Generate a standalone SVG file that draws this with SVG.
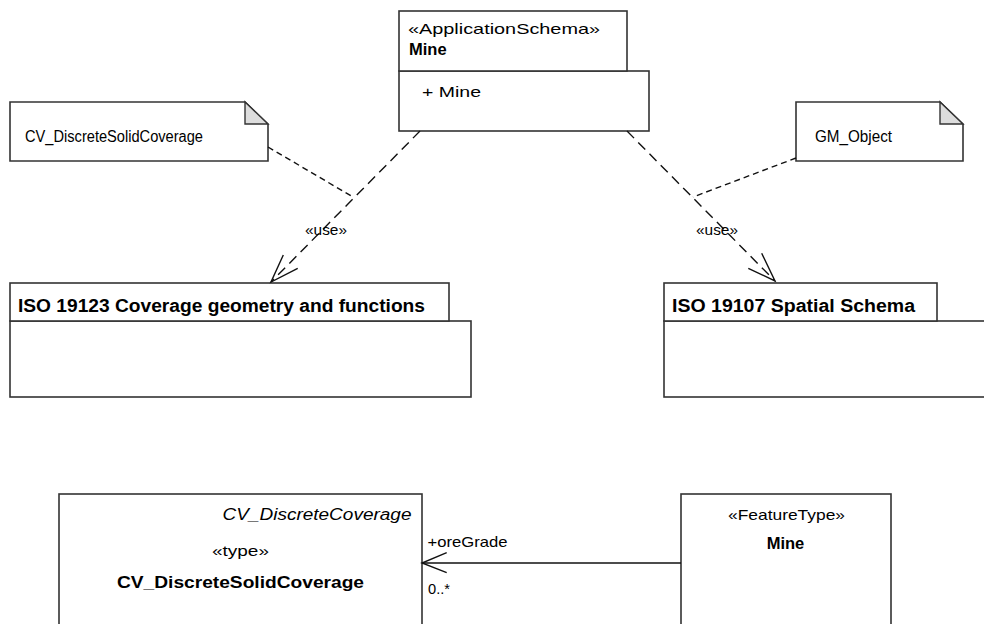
<svg xmlns="http://www.w3.org/2000/svg" width="984" height="624" viewBox="0 0 984 624">
<style>
.box{fill:#fff;stroke:#333;stroke-width:1.6}
.fold{fill:#ddd;stroke:#333;stroke-width:1.4}
.t{font-family:"Liberation Sans",Arial,sans-serif;fill:#000}
.dep{fill:none;stroke:#111;stroke-width:1.4;stroke-dasharray:10,6}
.nl{fill:none;stroke:#111;stroke-width:1.4;stroke-dasharray:6,4}
.sol{fill:none;stroke:#111;stroke-width:1.4}
</style>
<rect width="984" height="624" fill="#fff"/>
<g id="pkg-mine">
<rect class="box" x="399" y="71" width="250" height="60"/>
<rect class="box" x="399" y="11" width="228" height="60"/>
<text class="t" x="408" y="34" font-size="14.5" textLength="192" lengthAdjust="spacingAndGlyphs">«ApplicationSchema»</text>
<text class="t" x="409" y="55" font-size="16.5" font-weight="bold">Mine</text>
<text class="t" x="422" y="97" font-size="15" textLength="59" lengthAdjust="spacingAndGlyphs">+ Mine</text>
</g>
<g id="note-cv">
<path class="box" d="M10,102 H245 L268,124 V161 H10 Z"/>
<path class="fold" d="M245,102 V124 H268 Z"/>
<text class="t" x="25" y="142" font-size="16" textLength="178" lengthAdjust="spacingAndGlyphs">CV_DiscreteSolidCoverage</text>
</g>
<g id="note-gm">
<path class="box" d="M796,102 H940 L963,124 V161 H796 Z"/>
<path class="fold" d="M940,102 V124 H963 Z"/>
<text class="t" x="815" y="142" font-size="16" textLength="77" lengthAdjust="spacingAndGlyphs">GM_Object</text>
</g>
<g id="pkg-19123">
<rect class="box" x="10" y="321" width="461" height="76"/>
<rect class="box" x="10" y="283" width="439" height="38"/>
<text class="t" x="18" y="312" font-size="17.5" font-weight="bold" textLength="407" lengthAdjust="spacingAndGlyphs">ISO 19123 Coverage geometry and functions</text>
</g>
<g id="pkg-19107">
<rect class="box" x="664" y="321" width="340" height="76"/>
<rect class="box" x="664" y="283" width="273" height="38"/>
<text class="t" x="672" y="312" font-size="17.5" font-weight="bold" textLength="243" lengthAdjust="spacingAndGlyphs">ISO 19107 Spatial Schema</text>
</g>
<g id="class-cv">
<rect class="box" x="59" y="494" width="363" height="150"/>
<text class="t" x="411.5" y="519.5" font-size="16" font-style="italic" text-anchor="end" textLength="189" lengthAdjust="spacingAndGlyphs">CV_DiscreteCoverage</text>
<text class="t" x="240.5" y="556" font-size="14.5" text-anchor="middle" textLength="57" lengthAdjust="spacingAndGlyphs">«type»</text>
<text class="t" x="240.5" y="588" font-size="16" font-weight="bold" text-anchor="middle" textLength="247" lengthAdjust="spacingAndGlyphs">CV_DiscreteSolidCoverage</text>
</g>
<g id="class-mine">
<rect class="box" x="681" y="494" width="210" height="150"/>
<text class="t" x="786.5" y="519.5" font-size="14.5" text-anchor="middle" textLength="117" lengthAdjust="spacingAndGlyphs">«FeatureType»</text>
<text class="t" x="785.5" y="548.5" font-size="16.5" font-weight="bold" text-anchor="middle">Mine</text>
</g>
<g id="connectors">
<path class="dep" d="M420,131 L271,282"/>
<path class="sol" d="M283.3,255 L271,282 L297.7,268.3"/>
<path class="dep" d="M627,131 L775,281"/>
<path class="sol" d="M748.3,268.3 L775,281 L761.7,253.3"/>
<path class="nl" d="M268,147 L353,197"/>
<path class="nl" d="M796,158 L693,197"/>
<path class="sol" d="M681,563 H422"/>
<path class="sol" d="M446.7,552.7 L422,563 L446.7,572.7"/>
<text class="t" x="326" y="235" font-size="15" text-anchor="middle" textLength="42" lengthAdjust="spacingAndGlyphs">«use»</text>
<text class="t" x="717" y="235" font-size="15" text-anchor="middle" textLength="42" lengthAdjust="spacingAndGlyphs">«use»</text>
<text class="t" x="427.5" y="546.5" font-size="14.5" textLength="80" lengthAdjust="spacingAndGlyphs">+oreGrade</text>
<text class="t" x="428" y="594" font-size="14.5" textLength="22" lengthAdjust="spacingAndGlyphs">0..*</text>
</g>
</svg>
